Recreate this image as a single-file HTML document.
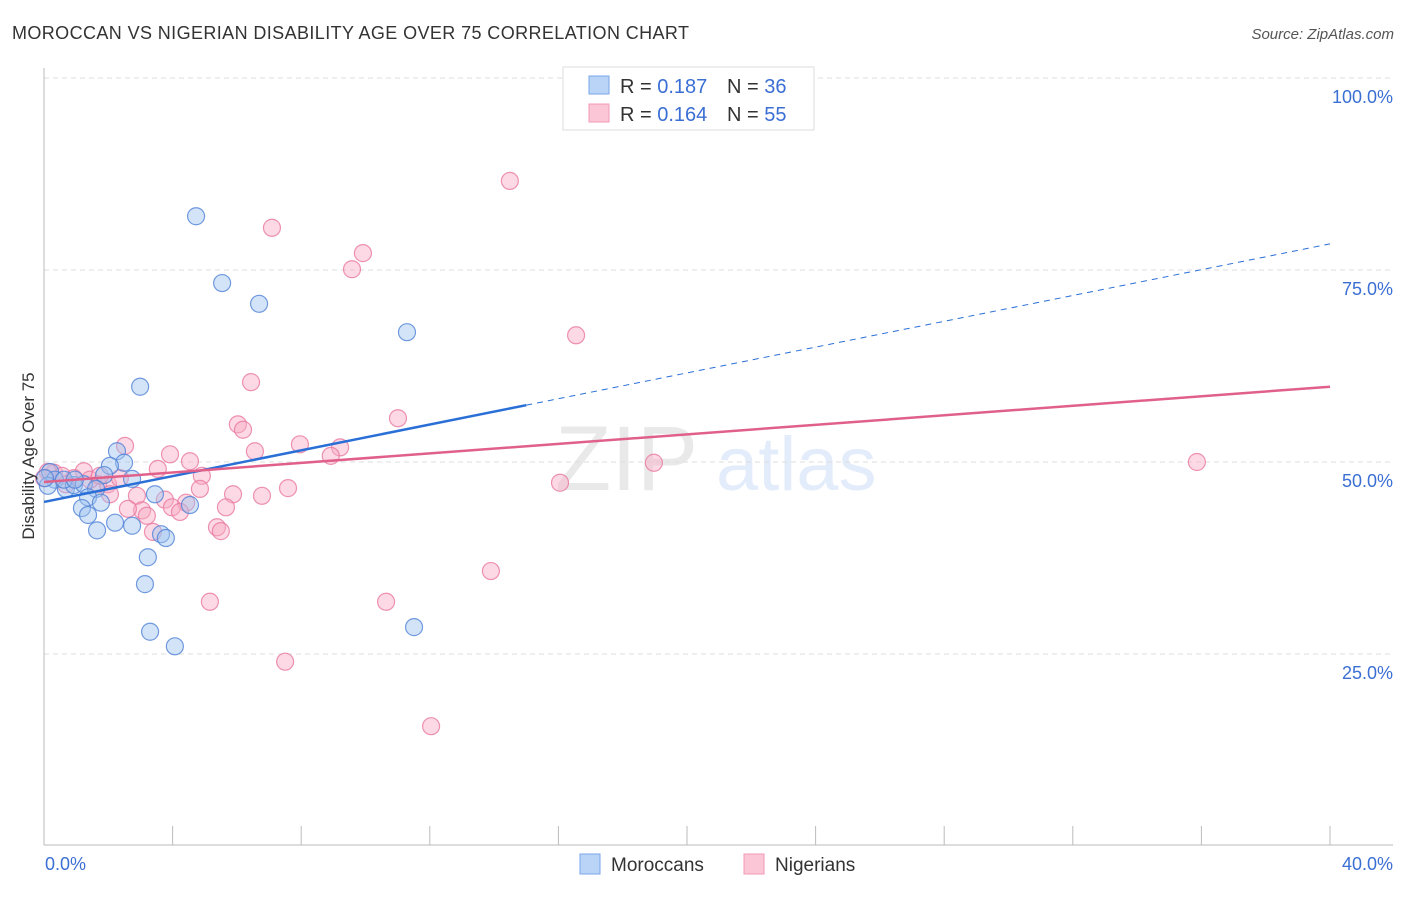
<!DOCTYPE html>
<html><head><meta charset="utf-8"><style>
body{margin:0;background:#fff;font-family:"Liberation Sans",sans-serif}
svg text{font-family:"Liberation Sans",sans-serif}
</style></head><body>
<svg width="1406" height="892" xmlns="http://www.w3.org/2000/svg">
<text x="12" y="39" font-size="18" fill="#333" textLength="677" lengthAdjust="spacing">MOROCCAN VS NIGERIAN DISABILITY AGE OVER 75 CORRELATION CHART</text>
<text x="1394" y="39" font-size="15" fill="#555" text-anchor="end" font-style="italic">Source: ZipAtlas.com</text>
<g opacity="0.18">
<text x="555" y="490" font-size="92" fill="#888" font-family="Liberation Serif">ZIP</text>
<text x="716" y="490" font-size="76" fill="#6a9be8">atlas</text>
</g>
<g id="grid"></g>
<g id="axes"></g>
<g id="marks"></g>
<text transform="translate(34,456) rotate(-90)" font-size="17" fill="#333" text-anchor="middle">Disability Age Over 75</text>
<g>
<rect x="563" y="67" width="251" height="63" fill="#fff" stroke="#ddd"/>
<rect x="589" y="76" width="20" height="18" fill="#b9d4f6" stroke="#7aa6e8"/>
<rect x="589" y="104" width="20" height="18" fill="#fbc6d6" stroke="#f19ab5"/>
<text x="620" y="93" font-size="20" fill="#333">R = <tspan fill="#3b6fd4">0.187</tspan></text>
<text x="727" y="93" font-size="20" fill="#333">N = <tspan fill="#3b6fd4">36</tspan></text>
<text x="620" y="121" font-size="20" fill="#333">R = <tspan fill="#3b6fd4">0.164</tspan></text>
<text x="727" y="121" font-size="20" fill="#333">N = <tspan fill="#3b6fd4">55</tspan></text>
</g>
<g>
<rect x="580" y="854" width="20" height="20" fill="#b9d4f6" stroke="#7aa6e8"/>
<text x="611" y="871" font-size="19" fill="#333">Moroccans</text>
<rect x="744" y="854" width="20" height="20" fill="#fbc6d6" stroke="#f19ab5"/>
<text x="775" y="871" font-size="19" fill="#333">Nigerians</text>
</g>
</svg>
<script>
const blueX=[4.73,5.54,6.69,11.29,2.99,2.27,2.49,2.05,1.87,2.74,0.19,0.34,0.12,0.68,0.93,1.24,1.62,1.37,3.45,1.18,1.77,4.54,1.37,2.21,2.74,1.65,3.64,3.79,3.23,3.14,11.51,3.30,4.07,0.62,0.96,0.03];
const blueY=[82.0,73.3,70.6,66.9,59.8,51.4,49.9,49.5,48.3,47.8,48.7,47.7,46.9,46.5,47.0,47.1,46.5,45.4,45.8,44.0,44.7,44.4,43.1,42.1,41.7,41.1,40.6,40.1,37.6,34.1,28.5,27.9,26.0,47.7,47.7,47.9];
const pinkX=[14.49,7.09,9.92,9.58,16.55,6.44,11.01,6.03,6.19,2.52,7.96,9.21,6.56,3.92,8.92,4.54,18.97,35.86,3.54,1.24,4.91,0.31,0.56,0.93,1.68,1.99,7.59,4.85,16.05,2.05,2.89,5.88,6.78,3.76,4.42,3.05,3.98,2.61,5.66,3.20,4.23,5.38,5.50,3.39,13.90,5.16,10.64,7.50,12.04,0.12,1.43,0.68,2.36,0.0,1.74];
const pinkY=[86.6,80.5,77.2,75.1,66.5,60.4,55.7,54.9,54.2,52.1,52.3,51.9,51.4,51.0,50.8,50.1,49.9,50.0,49.1,48.8,48.2,48.6,48.2,47.9,47.1,47.1,46.6,46.5,47.3,45.8,45.6,45.8,45.6,45.1,44.7,43.7,44.1,43.9,44.1,43.0,43.5,41.5,41.0,40.9,35.8,31.8,31.8,24.0,15.6,48.7,47.7,47.1,47.9,47.9,48.2];
const blueTrend=[44.8,78.4]; const blueSolidEnd=15.0;
const pinkTrend=[47.4,59.8];
const yTicks=[25,50,75,100];
const yTickLabels=["25.0%","50.0%","75.0%","100.0%"];
const xTicks=[0,4,8,12,16,20,24,28,32,36,40];
const xTickLabels=["0.0%","40.0%"];
const NS="http://www.w3.org/2000/svg";
const X=v=>44+v/40*1286, Y=v=>846-v/100*768;
function mk(t,a,p){const e=document.createElementNS(NS,t);for(const k in a)e.setAttribute(k,a[k]);p.appendChild(e);return e;}
const grid=document.getElementById('grid'),axes=document.getElementById('axes'),marks=document.getElementById('marks');
yTicks.forEach((v,i)=>{
 const l=mk('line',{x1:44,x2:1393,y1:Y(v),y2:Y(v),stroke:'#ddd','stroke-dasharray':'5,4'},grid);
 
 
 const t=mk('text',{x:1393,y:Y(v)+25,'font-size':18,fill:'#3b6fd4','text-anchor':'end'},axes);
 t.textContent=yTickLabels[i];
 
 
});
let a=mk('line',{x1:44,x2:44,y1:68,y2:845,stroke:'#bbb'},axes);


a=mk('line',{x1:44,x2:1393,y1:845,y2:845,stroke:'#bbb'},axes);


xTicks.forEach(v=>{const t=mk('line',{x1:X(v),x2:X(v),y1:826,y2:845,stroke:'#bbb'},axes);
 
 });
let t=mk('text',{x:X(0)+1,y:870,'font-size':18,fill:'#3b6fd4'},axes);t.textContent=xTickLabels[0];


t=mk('text',{x:1393,y:870,'font-size':18,fill:'#3b6fd4','text-anchor':'end'},axes);t.textContent=xTickLabels[1];


pinkX.forEach((v,i)=>{const c=mk('circle',{cx:X(v),cy:Y(pinkY[i]),r:8.5,fill:'rgba(248,170,195,0.45)',stroke:'rgba(232,120,160,0.8)','stroke-width':1.2},marks);
 
 });
blueX.forEach((v,i)=>{const c=mk('circle',{cx:X(v),cy:Y(blueY[i]),r:8.5,fill:'rgba(160,195,240,0.45)',stroke:'rgba(80,130,215,0.8)','stroke-width':1.2},marks);
 
 });
const by=x=>blueTrend[0]+(blueTrend[1]-blueTrend[0])*x/40;
let l=mk('line',{x1:X(0),y1:Y(by(0)),x2:X(blueSolidEnd),y2:Y(by(blueSolidEnd)),stroke:'#2a6fd6','stroke-width':2.5},marks);


l=mk('line',{x1:X(blueSolidEnd),y1:Y(by(blueSolidEnd)),x2:X(40),y2:Y(by(40)),stroke:'#2a6fd6','stroke-width':1,'stroke-dasharray':'6,5'},marks);


l=mk('line',{x1:X(0),y1:Y(pinkTrend[0]),x2:X(40),y2:Y(pinkTrend[1]),stroke:'#e0608a','stroke-width':2.5},marks);


</script>
</body></html>
